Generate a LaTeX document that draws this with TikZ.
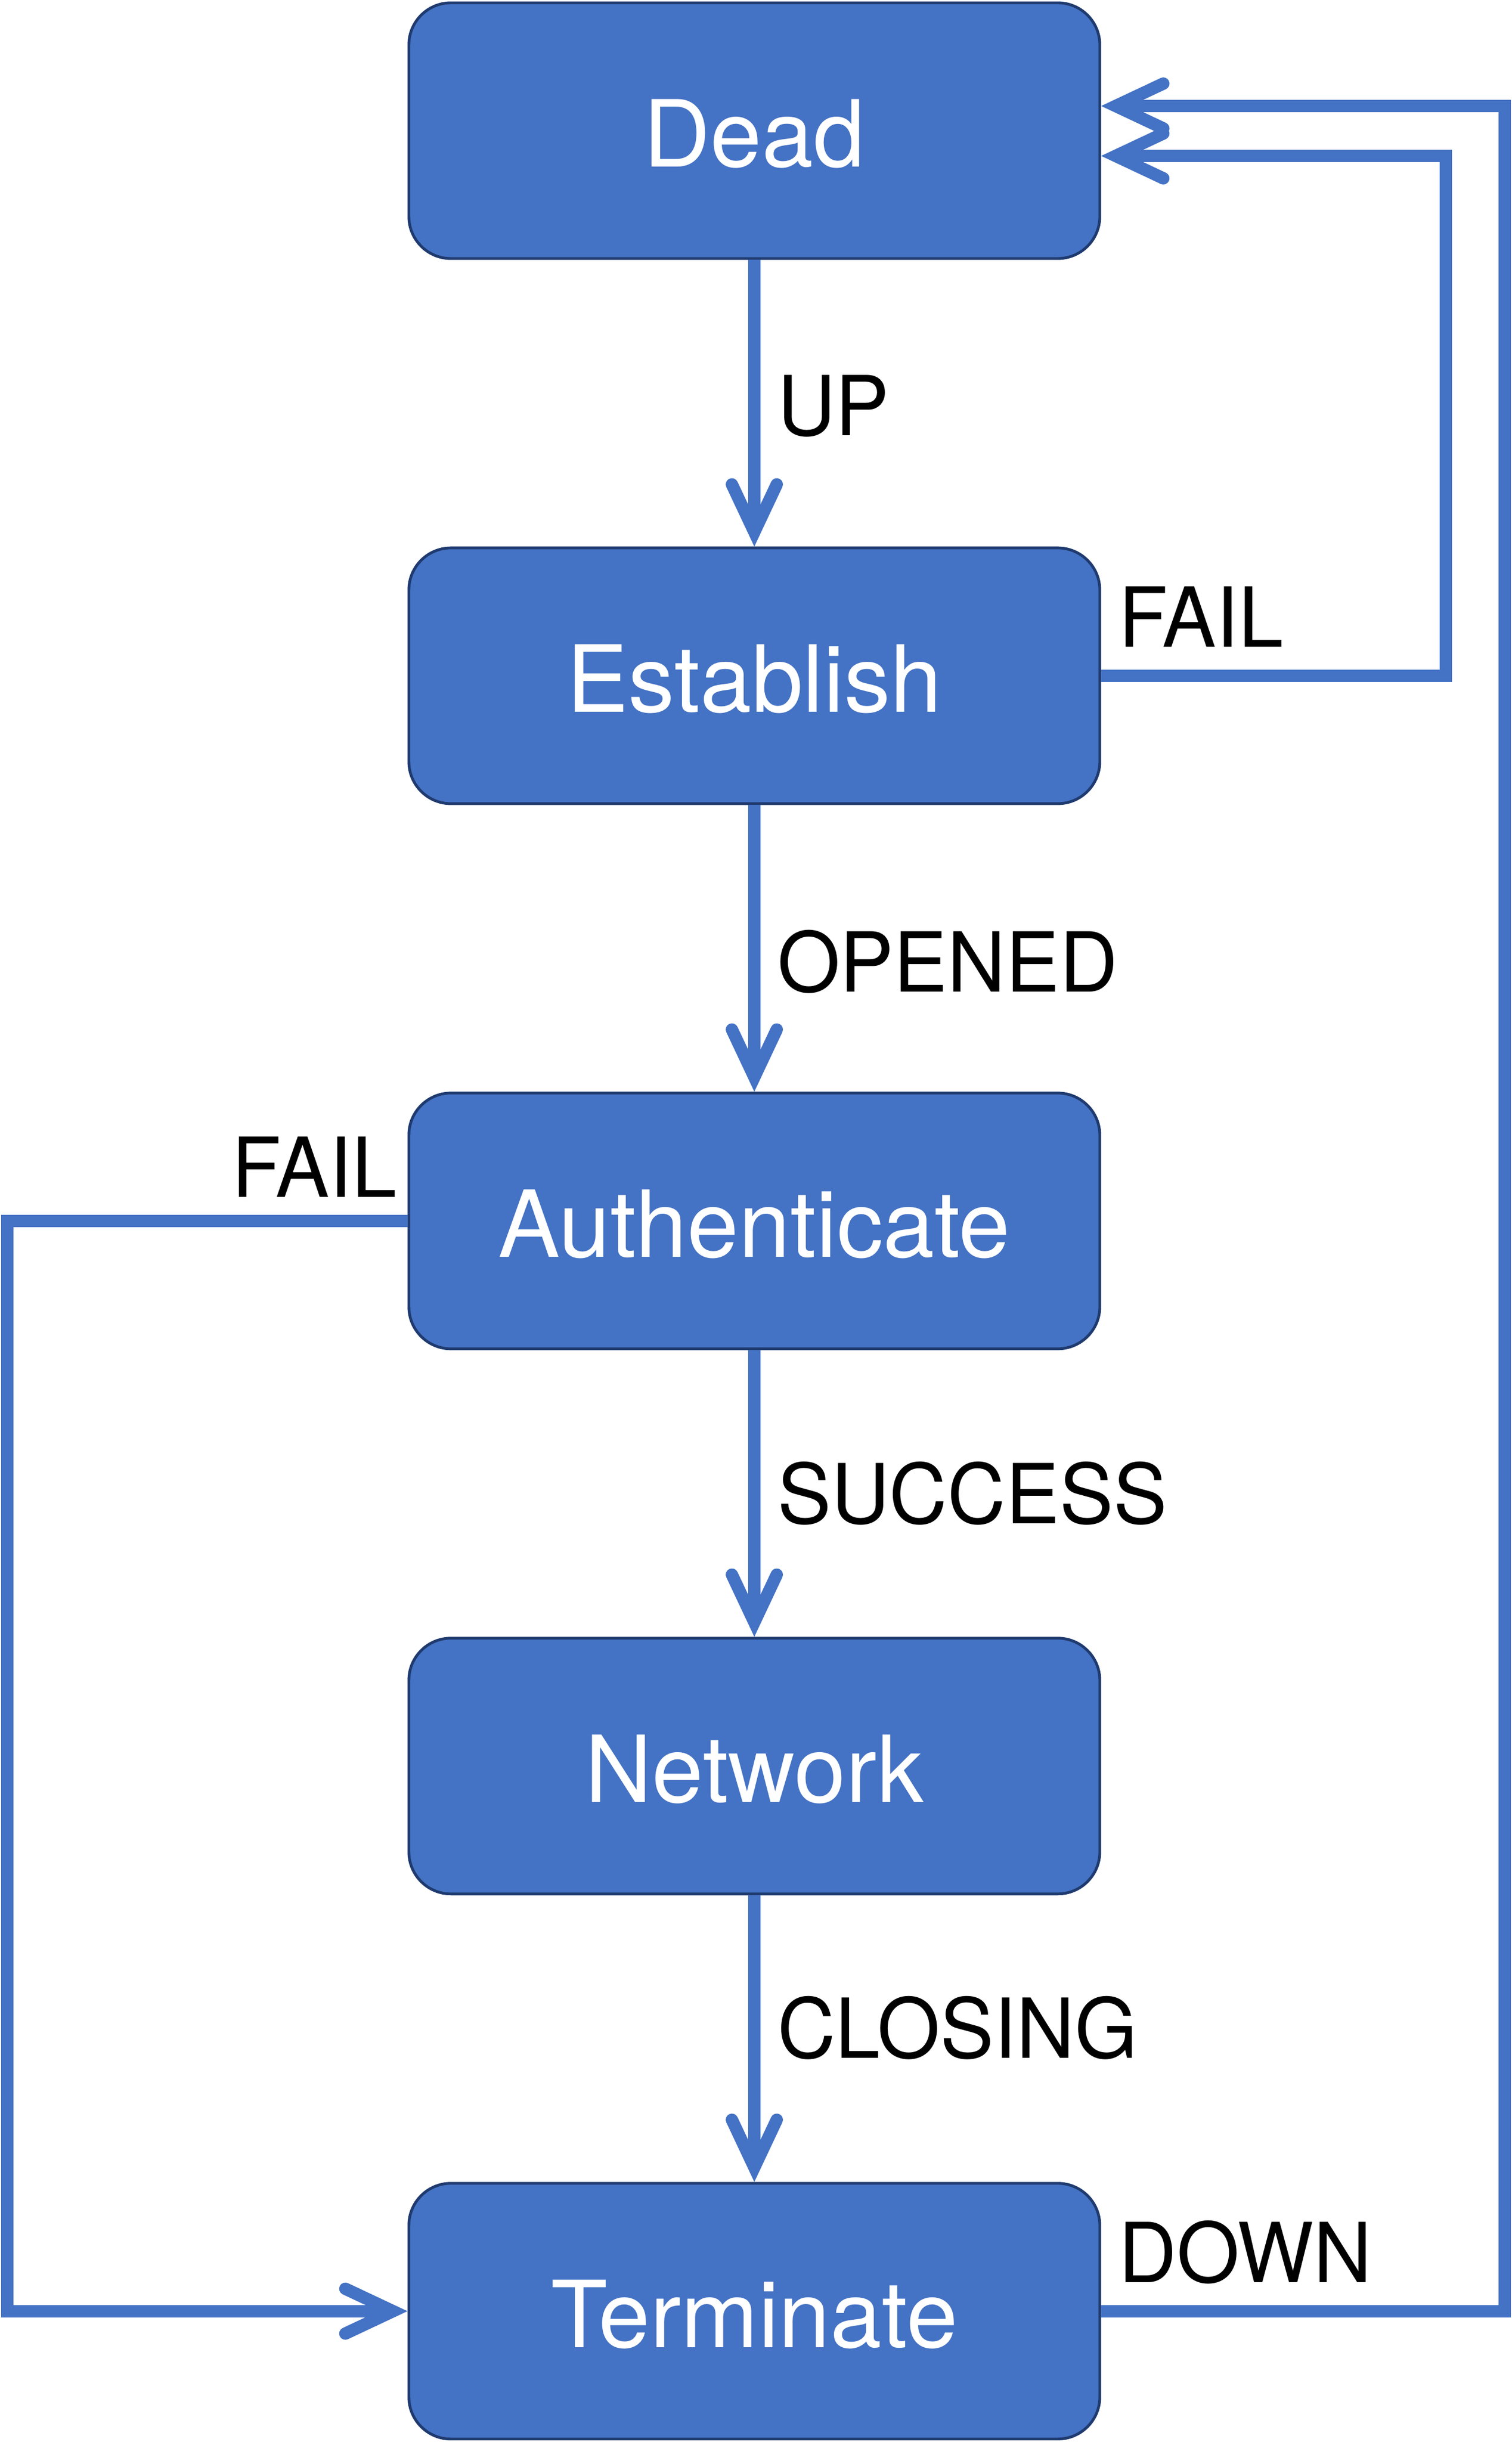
\documentclass[tikz,border=0pt]{standalone}
\usepackage{fontspec}
\setmainfont{TeX Gyre Heros}
\newfontfamily\labelfont{TeX Gyre Heros}[FakeStretch=0.975]
\usetikzlibrary{positioning, arrows.meta}
\definecolor{state_fill}{HTML}{4472C4}
\definecolor{state_line}{HTML}{1F3A6E}
\definecolor{flow_line}{HTML}{4472C4}

\begin{document}
\begin{tikzpicture}[
    state/.style={draw=state_line, line width=1.4pt, fill=state_fill, rounded corners=0.75cm,
        minimum width=12.32cm, minimum height=4.56cm, inner sep=0pt, text=white,
        text height=1.29cm, text depth=0pt,
        font=\fontsize{47pt}{50pt}\selectfont},
    flow/.style={draw=flow_line, line width=0.22cm, line join=miter,
        -{Straight Barb[length=0.85cm, width=0.8cm, line cap=round, line join=miter]}},
    lbl/.style={inner sep=0pt, text=black, font=\labelfont\fontsize{42pt}{45pt}\selectfont}
]

% --- Riquadro della pagina ---
\useasboundingbox (0,0) rectangle (26.95,-43.54);

% --- Stati ---
\node[state] (dead) at (13.45,-2.33) {Dead};
\node[state, below=5.11cm of dead] (est) {Establish};
\node[state, below=5.11cm of est] (auth) {Authenticate};
\node[state, below=5.11cm of auth] (net) {Network};
\node[state, below=5.11cm of net] (term) {Terminate};

% --- Punti di svolta dei ritorni ---
\coordinate (fail_turn) at (25.78,0);
\coordinate (down_turn) at (26.83,0);
\coordinate (auth_turn) at (0.13,0);

% --- Transizioni principali ---
\draw[flow] (dead) -- node[lbl, right=0.3cm, yshift=-0.05cm] {UP} (est);
\draw[flow] (est) -- node[lbl, right=0.3cm, yshift=-0.24cm] {OPENED} (auth);
\draw[flow] (auth) -- node[lbl, right=0.3cm] {SUCCESS} (net);
\draw[flow] (net) -- node[lbl, right=0.3cm, yshift=0.19cm] {CLOSING} (term);

% --- Ritorni a Dead ---
\draw[flow] (est.east) -- (est.east -| fail_turn) |- ([yshift=-0.45cm]dead.east);
\draw[flow] (term.east) -- (term.east -| down_turn) |- ([yshift=0.44cm]dead.east);

% --- Fallimento dell'autenticazione ---
\draw[flow] (auth.west) -- (auth.west -| auth_turn) |- (term.west);

% --- Etichette dei ritorni ---
\node[lbl, above right=0.51cm and 0.3cm of est.east, anchor=base west] (fail_est) {FAIL};
\node[lbl, above right=0.51cm and 0.3cm of term.east, anchor=base west] (down_term) {DOWN};
\node[lbl, above left=0.42cm and 0.18cm of auth.west, anchor=base east] (fail_auth) {FAIL};

\end{tikzpicture}
\end{document}
